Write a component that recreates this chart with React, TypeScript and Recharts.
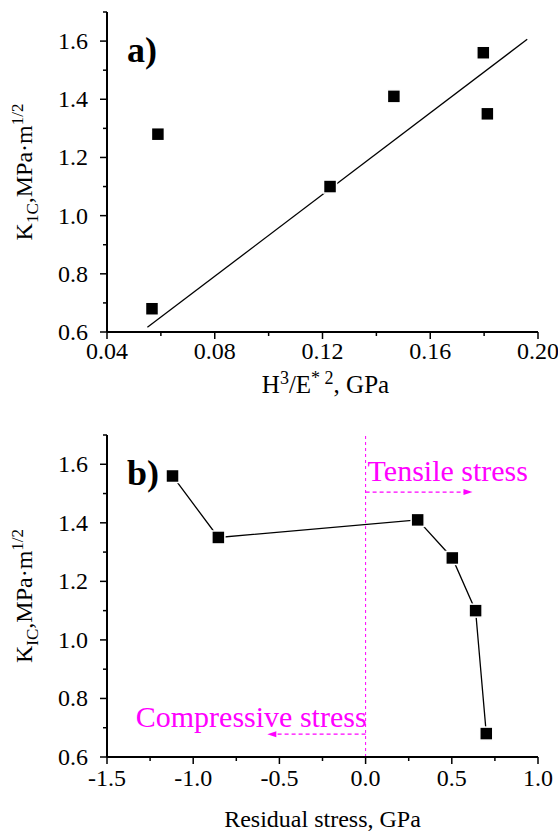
import React from 'react';
import { ScatterChart, Scatter, XAxis, YAxis, ReferenceLine } from 'recharts';

const FONT = 'Liberation Serif, serif';
const MAGENTA = '#ff00ff';

// panel a) toughness vs H^3/E*^2
const hardnessRatio = [0.0567, 0.0589, 0.1228, 0.1465, 0.1797, 0.1812];
const toughnessA = [0.68, 1.28, 1.1, 1.41, 1.56, 1.35];
const fitX = [0.055, 0.196];
const fitY = [0.616, 1.606];
const ticksXA = [0.04, 0.06, 0.08, 0.1, 0.12, 0.14, 0.16, 0.18, 0.2];
const majorXA = [0.04, 0.08, 0.12, 0.16, 0.2];

// panel b) toughness vs residual stress
const residualStress = [-1.12, -0.854, 0.302, 0.503, 0.638, 0.7];
const toughnessB = [1.56, 1.35, 1.41, 1.28, 1.1, 0.68];
const ticksXB = [-1.5, -1.25, -1, -0.75, -0.5, -0.25, 0, 0.25, 0.5, 0.75, 1];
const majorXB = [-1.5, -1, -0.5, 0, 0.5, 1];

const ticksY = [0.6, 0.7, 0.8, 0.9, 1.0, 1.1, 1.2, 1.3, 1.4, 1.5, 1.6, 1.7];
const majorY = [0.6, 0.8, 1.0, 1.2, 1.4, 1.6];

const pointsA = hardnessRatio.map((x, i) => ({ x, y: toughnessA[i] }));
const fitLine = fitX.map((x, i) => ({ x, y: fitY[i] }));
const pointsB = residualStress.map((x, i) => ({ x, y: toughnessB[i] }));

const isMajor = (v: number, majors: number[]) => majors.some((m) => Math.abs(m - v) < 1e-9);

const txt = (size: number, extra: any = {}) => ({ fontFamily: FONT, fontSize: size, ...extra });

const Square = (props: any) => {
  const { cx, cy } = props;
  if (cx == null || cy == null) return <g />;
  return <rect x={cx - 6.5} y={cy - 6.5} width={13} height={13} fill="#000" stroke="#fff" strokeWidth={1.5} />;
};

const NoDot = () => <g />;

const bottomTick = (majors: number[], digits: number, gap: number) => (props: any) => {
  const { x, y, payload } = props;
  const v = payload.value;
  const major = isMajor(v, majors);
  return (
    <g>
      <line x1={x} x2={x} y1={y} y2={y + (major ? 7 : 4)} stroke="#000" strokeWidth={1.5} />
      {major && (
        <text x={x} y={y + gap} textAnchor="middle" style={txt(24)} fill="#000">
          {v.toFixed(digits)}
        </text>
      )}
    </g>
  );
};

const leftTick = (props: any) => {
  const { x, y, payload } = props;
  const v = payload.value;
  const major = isMajor(v, majorY);
  return (
    <g>
      <line x1={x} x2={x - (major ? 7 : 4)} y1={y} y2={y} stroke="#000" strokeWidth={1.5} />
      {major && (
        <text x={x - 19} y={y + 8} textAnchor="end" style={txt(24)} fill="#000">
          {v.toFixed(1)}
        </text>
      )}
    </g>
  );
};

const topTick = (props: any) => {
  const { x, y } = props;
  return <line x1={x} x2={x} y1={y} y2={y + 4} stroke="#000" strokeWidth={1.2} />;
};

const rightTick = (props: any) => {
  const { x, y } = props;
  return <line x1={x} x2={x - 4} y1={y} y2={y} stroke="#000" strokeWidth={1.2} />;
};

const yTitle = (sub: string) => (props: any) => {
  const { viewBox } = props;
  const cx = 32;
  const cy = viewBox.y + viewBox.height / 2;
  return (
    <text transform={`rotate(-90, ${cx}, ${cy})`} x={cx} y={cy} textAnchor="middle" style={txt(24)} fill="#000">
      K
      <tspan style={txt(17)} dy={6}>{sub}</tspan>
      <tspan style={txt(24)} dy={-6}>,MPa·m</tspan>
      <tspan style={txt(17)} dy={-9}>1/2</tspan>
    </text>
  );
};

const xTitleA = (props: any) => {
  const { viewBox } = props;
  const cx = viewBox.x + viewBox.width / 2 + 3;
  const y = viewBox.y + 61;
  return (
    <text x={cx} y={y} textAnchor="middle" style={txt(25)} fill="#000">
      H
      <tspan style={txt(18)} dy={-9}>3</tspan>
      <tspan style={txt(25)} dy={9}>/E</tspan>
      <tspan style={txt(18)} dy={-9}>*  2</tspan>
      <tspan style={txt(25)} dy={9}>, GPa</tspan>
    </text>
  );
};

const xTitleB = (props: any) => {
  const { viewBox } = props;
  return (
    <text x={viewBox.x + viewBox.width / 2} y={viewBox.y + 70} textAnchor="middle" style={txt(24)} fill="#000">
      Residual stress, GPa
    </text>
  );
};

const panelTag = (text: string) => (props: any) => {
  const { viewBox } = props;
  return (
    <text x={viewBox.x + 20} y={viewBox.y + 50} style={txt(36, { fontWeight: 'bold' })} fill="#000">
      {text}
    </text>
  );
};

const stressArrow = (label: string, side: 'right' | 'left') => (props: any) => {
  const { x1, y1, x2, y2 } = props;
  const dir = x2 > x1 ? 1 : -1;
  return (
    <g>
      <line x1={x1} y1={y1} x2={x2 - dir * 8} y2={y2} stroke={MAGENTA} strokeWidth={1.2} strokeDasharray="4 3" />
      <polygon points={`${x2},${y2} ${x2 - dir * 9},${y2 - 3} ${x2 - dir * 9},${y2 + 3}`} fill={MAGENTA} />
      <text
        x={side === 'right' ? x1 + 2 : x1 + 1}
        y={side === 'right' ? y1 - 11 : y1 - 7}
        textAnchor={side === 'right' ? 'start' : 'end'}
        style={txt(30)}
        fill={MAGENTA}
      >
        {label}
      </text>
    </g>
  );
};

const axisStroke = { stroke: '#000', strokeWidth: 2 };
const boxStroke = { stroke: '#000', strokeWidth: 1.5 };

export default function App() {
  return (
    <div style={{ position: 'absolute', left: 0, top: 0, width: 558, height: 832, background: '#fff' }}>
      <ScatterChart width={558} height={400} margin={{ top: 12, right: 20, bottom: 0, left: 0 }}>
        <XAxis
          dataKey="x"
          type="number"
          domain={[0.04, 0.2]}
          ticks={ticksXA}
          interval={0}
          allowDataOverflow
          height={68}
          tickSize={0}
          tickMargin={0}
          tickLine={false}
          axisLine={axisStroke}
          tick={bottomTick(majorXA, 2, 27)}
          label={{ content: xTitleA }}
        />
        <XAxis xAxisId="top" orientation="top" type="number" domain={[0.04, 0.2]} ticks={ticksXA} interval={0} height={0} tickSize={0} tickMargin={0} tickLine={false} axisLine={boxStroke} tick={topTick} />
        <YAxis
          dataKey="y"
          type="number"
          domain={[0.6, 1.7]}
          ticks={ticksY}
          interval={0}
          allowDataOverflow
          width={107}
          tickSize={0}
          tickMargin={0}
          tickLine={false}
          axisLine={axisStroke}
          tick={leftTick}
          label={{ content: yTitle('1C') }}
        />
        <YAxis yAxisId="right" orientation="right" type="number" domain={[0.6, 1.7]} ticks={ticksY} interval={0} width={0} tickSize={0} tickMargin={0} tickLine={false} axisLine={boxStroke} tick={rightTick} />
        <ReferenceLine x={0.04} stroke="none" label={{ content: panelTag('a)') }} />
        <Scatter data={fitLine} line={{ stroke: '#000', strokeWidth: 1.3 }} shape={NoDot} isAnimationActive={false} />
        <Scatter data={pointsA} shape={Square} isAnimationActive={false} />
      </ScatterChart>
      <ScatterChart width={558} height={432} margin={{ top: 35, right: 20, bottom: 0, left: 0 }}>
        <XAxis
          dataKey="x"
          type="number"
          domain={[-1.5, 1]}
          ticks={ticksXB}
          interval={0}
          allowDataOverflow
          height={75}
          tickSize={0}
          tickMargin={0}
          tickLine={false}
          axisLine={axisStroke}
          tick={bottomTick(majorXB, 1, 29)}
          label={{ content: xTitleB }}
        />
        <XAxis xAxisId="top" orientation="top" type="number" domain={[-1.5, 1]} ticks={ticksXB} interval={0} height={0} tickSize={0} tickMargin={0} tickLine={false} axisLine={boxStroke} tick={topTick} />
        <YAxis
          dataKey="y"
          type="number"
          domain={[0.6, 1.7]}
          ticks={ticksY}
          interval={0}
          allowDataOverflow
          width={107}
          tickSize={0}
          tickMargin={0}
          tickLine={false}
          axisLine={axisStroke}
          tick={leftTick}
          label={{ content: yTitle('IC') }}
        />
        <YAxis yAxisId="right" orientation="right" type="number" domain={[0.6, 1.7]} ticks={ticksY} interval={0} width={0} tickSize={0} tickMargin={0} tickLine={false} axisLine={boxStroke} tick={rightTick} />
        <ReferenceLine x={-1.5} stroke="none" label={{ content: panelTag('b)') }} />
        <ReferenceLine x={0} stroke={MAGENTA} strokeWidth={1} strokeDasharray="3 3" />
        <ReferenceLine segment={[{ x: 0, y: 1.505 }, { x: 0.62, y: 1.505 }]} shape={stressArrow('Tensile stress', 'right')} />
        <ReferenceLine segment={[{ x: 0, y: 0.678 }, { x: -0.57, y: 0.678 }]} shape={stressArrow('Compressive stress', 'left')} />
        <Scatter data={pointsB} line={{ stroke: '#000', strokeWidth: 1.3 }} shape={Square} isAnimationActive={false} />
      </ScatterChart>
    </div>
  );
}
